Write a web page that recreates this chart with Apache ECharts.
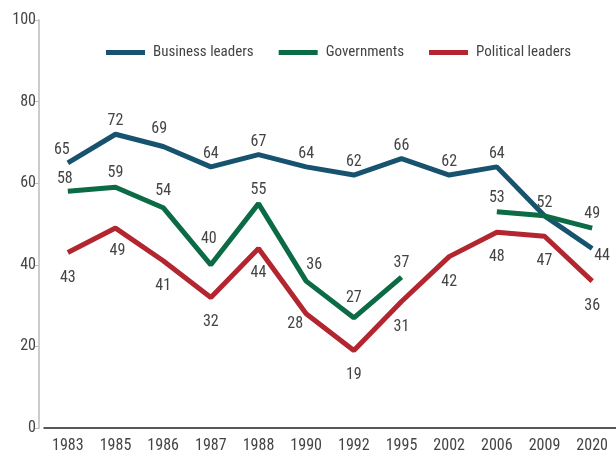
<!DOCTYPE html>
<html>
<head>
<meta charset="utf-8">
<script src="https://cdn.jsdelivr.net/npm/echarts@6/dist/echarts.min.js"></script>
<style>html,body{margin:0;padding:0;background:#fff}#c{width:616px;height:460px}</style>
</head>
<body>
<div id="c"></div>
<script>
const years = ['1983','1985','1986','1987','1988','1990','1992','1995','2002','2006','2009','2020'];
const businessLeaders = [65,72,69,64,67,64,62,66,62,64,52,44];
const governments = [58,59,54,40,55,36,27,37,null,53,52,49];
const politicalLeaders = [43,49,41,32,44,28,19,31,42,48,47,36];
const yTicks = [0,20,40,60,80,100];

const FONT = "'Roboto Condensed','DejaVu Sans Condensed',sans-serif";
const TXT = '#444';
const FS = 16;
const chart = echarts.init(document.getElementById('c'), null, {renderer:'canvas'});

function withLabels(arr, overrides) {
  return arr.map((v, i) => overrides[i] ? {value: v, label: overrides[i]} : v);
}

const common = {
  type: 'line', showSymbol: true, symbol: 'circle', symbolSize: 0.01,
  emphasis: {disabled: true}
};

chart.setOption({
  animation: false,
  textStyle: {fontFamily: FONT},
  grid: {left: 44, right: -5, top: 20, bottom: 32, containLabel: false},
  legend: {
    left: 101, top: 40, width: 520,
    itemWidth: 39, itemHeight: 5, itemGap: 25,
    icon: 'rect',
    textStyle: {fontFamily: FONT, fontSize: 15, color: TXT, padding: [0, 0, 0, 3]},
    data: ['Business leaders','Governments','Political leaders']
  },
  xAxis: {
    type: 'category', data: years, boundaryGap: true,
    axisLine: {lineStyle: {color: '#222', width: 1.5}},
    axisTick: {show: false},
    axisLabel: {fontFamily: FONT, fontSize: FS, color: TXT, margin: 10}
  },
  yAxis: {
    type: 'value', min: 0, max: 100, interval: 20, offset: 5,
    axisLine: {show: true, lineStyle: {color: '#cccccc', width: 2}},
    axisTick: {show: true, length: 5, lineStyle: {color: '#bbb', width: 1}},
    axisLabel: {fontFamily: FONT, fontSize: FS, color: TXT, margin: 3,
      formatter: v => yTicks.includes(v) ? String(v) : ''},
    splitLine: {show: false}
  },
  series: [
    Object.assign({}, common, {
      name: 'Business leaders', data: withLabels(businessLeaders, {
        0: {offset: [-6, 0]}, 2: {offset: [-4, -4]},
        11: {position: 'right', distance: 2, offset: [0, 8]}
      }),
      lineStyle: {width: 5, color: '#17536f'}, itemStyle: {color: '#17536f'},
      label: {show: true, position: 'top', distance: 5, fontFamily: FONT, fontSize: FS, color: TXT}
    }),
    Object.assign({}, common, {
      name: 'Governments', data: withLabels(governments, {
        0: {offset: [-3, 2]}, 2: {offset: [0, -3]}, 3: {offset: [-2, -12]},
        5: {offset: [8, -2]}, 6: {offset: [0, -6]}, 10: {show: false}
      }),
      lineStyle: {width: 5, color: '#0b6b45'}, itemStyle: {color: '#0b6b45'},
      label: {show: true, position: 'top', distance: 6, fontFamily: FONT, fontSize: FS, color: TXT}
    }),
    Object.assign({}, common, {
      name: 'Political leaders', data: withLabels(politicalLeaders, {
        1: {offset: [2, -2]}, 5: {offset: [-11, -15]}
      }),
      lineStyle: {width: 5, color: '#b3262f'}, itemStyle: {color: '#b3262f'},
      label: {show: true, position: 'bottom', distance: 17, fontFamily: FONT, fontSize: FS, color: TXT}
    })
  ]
});
</script>
</body>
</html>
